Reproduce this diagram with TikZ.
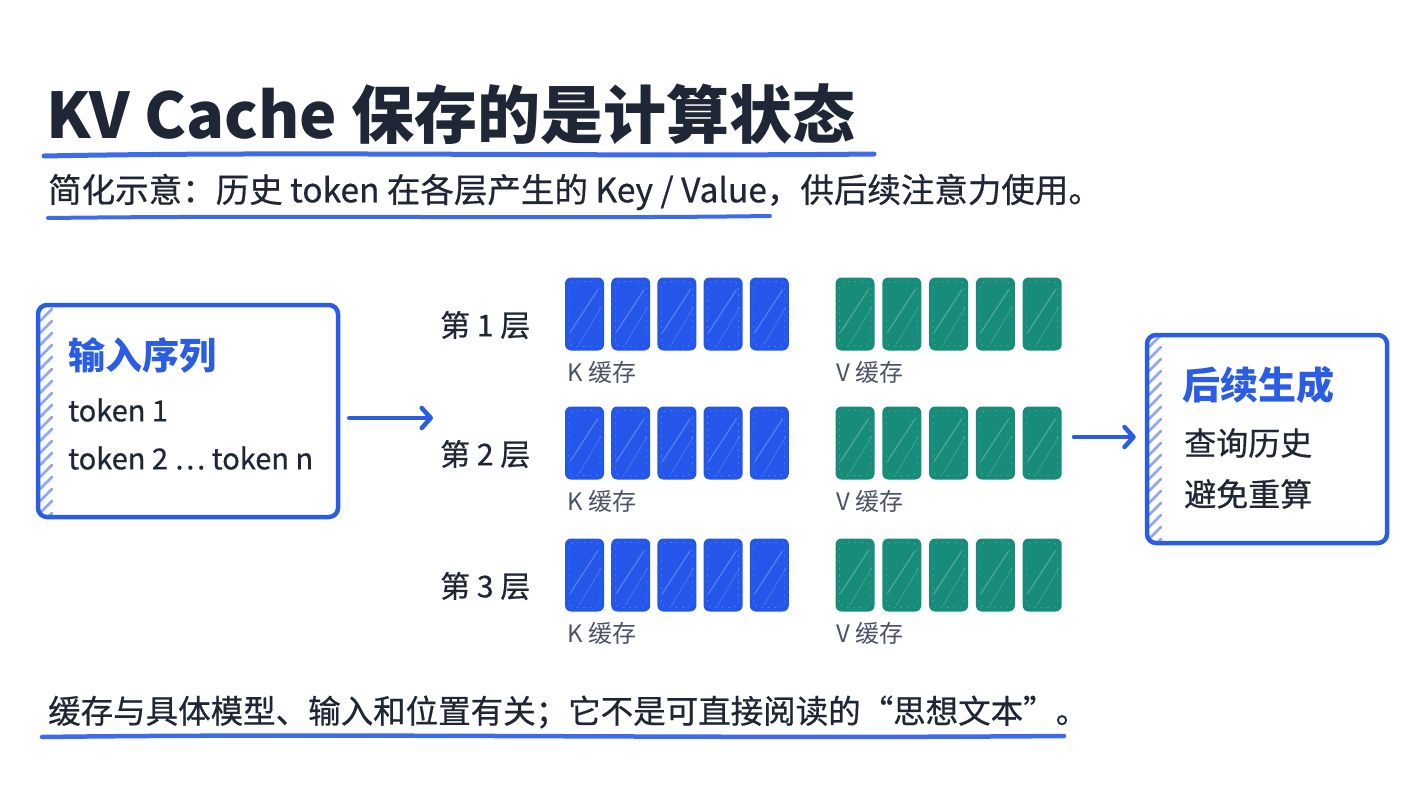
\documentclass[tikz,border=0pt]{standalone}
\usepackage{fontspec}
\setmainfont{Noto Sans CJK SC}
\newfontfamily\medfont{Noto Sans CJK SC}[FakeBold=0.6]
\usetikzlibrary{arrows.meta,calc}
\definecolor{ink}{HTML}{1F2636}
\definecolor{bl}{HTML}{2B5CE6}
\definecolor{kblue}{HTML}{2356E9}
\definecolor{vteal}{HTML}{178C78}
\definecolor{hatchc}{HTML}{8EA9F0}
\definecolor{lbl}{HTML}{4A5366}
\newcommand{\fs}[1]{\fontsize{#1}{#1}\selectfont}
\tikzset{
  txt/.style={inner sep=0pt, anchor=west, text=ink},
  uline/.style={draw=bl, line width=4.5pt, line cap=round, opacity=.9},
  blkstreak/.style={path picture={
      \draw[white,opacity=.22,line width=1.4pt]
        ([xshift=5pt,yshift=18pt]path picture bounding box.south west) --
        ([xshift=-6pt,yshift=-12pt]path picture bounding box.north east);
      \draw[white,opacity=.16,line width=1pt]
        ([xshift=14pt,yshift=6pt]path picture bounding box.south west) --
        ([xshift=-3pt,yshift=-30pt]path picture bounding box.north east);
      \draw[white,opacity=.25,line width=.8pt,dash pattern=on 1.5pt off 5pt]
        ([xshift=4pt,yshift=4pt]path picture bounding box.south west) rectangle
        ([xshift=-4pt,yshift=-4pt]path picture bounding box.north east);
  }},
  kblk/.style={rectangle, rounded corners=6pt, minimum width=39pt, minimum height=73pt,
    inner sep=0pt, fill=kblue, blkstreak},
  vblk/.style={rectangle, rounded corners=6pt, minimum width=39pt, minimum height=73pt,
    inner sep=0pt, fill=vteal, blkstreak},
  hatchbox/.style={rectangle, rounded corners=9pt, draw=bl, line width=4.5pt, inner sep=0pt,
    path picture={
      \foreach \t in {-20,-8,...,240}
        \draw[hatchc,line width=2.6pt,line cap=round]
          ([xshift=2pt,yshift=\t pt]path picture bounding box.south west) --
          ([xshift=14pt,yshift=\t pt+12pt]path picture bounding box.south west);
  }},
  laylbl/.style={txt, font=\fs{30}\medfont},
  cachelbl/.style={inner sep=0pt, anchor=west, text=lbl, font=\fs{24}},
  arr/.style={draw=bl, line width=4.5pt, line cap=round,
    -{Straight Barb[round,length=9pt,width=20pt]}},
}
\begin{document}
\begin{tikzpicture}[x=1pt,y=-1pt]
\useasboundingbox (0,0) rectangle (1421,800);
\fill[white] (0,0) rectangle (1421,800);

% title
\node[txt, font=\fs{63}\bfseries] (title) at (46,114) {KV Cache 保存的是计算状态};
\draw[uline, line width=5pt] (44,156) .. controls (300,151) and (600,157) .. (874,154);

% subtitle
\node[txt, font=\fs{33.5}\medfont] (sub) at (48,192) {简化示意：历史 token 在各层产生的 Key / Value，供后续注意力使用。};
\draw[uline, line width=4pt] (48,218) .. controls (300,215) and (550,219) .. (770,216);

% left box
\node[hatchbox, minimum width=300pt, minimum height=212pt] (inbox) at (188,411) {};
\node[txt, text=bl, font=\fs{37}\bfseries] (inttl) at (68,355) {输入序列};
\node[txt, font=\fs{29}\medfont] (tok1) at (68,410) {token 1};
\node[txt, font=\fs{29}\medfont] (tok2) at (68,458) {token 2 … token n};

% right box
\node[hatchbox, minimum width=240pt, minimum height=208pt] (outbox) at (1267,439) {};
\node[txt, text=bl, font=\fs{38}\bfseries] (outttl) at (1182,385) {后续生成};
\node[txt, font=\fs{32}\medfont] (out1) at (1184,443) {查询历史};
\node[txt, font=\fs{32}\medfont] (out2) at (1184,494) {避免重算};

% layers
\foreach \r/\y in {1/314,2/443,3/575} {
  \node[laylbl] (lay\r) at (440,\y+11) {第 \r\ 层};
  \foreach \i in {0,...,4} {
    \node[kblk] (k\r\i) at ({584.5+46.2*\i},\y) {};
    \node[vblk] (v\r\i) at ({855+46.8*\i},\y) {};
  }
  \node[cachelbl] (kl\r) at (567,\y+58) {K 缓存};
  \node[cachelbl] (vl\r) at (836,\y+58) {V 缓存};
}

% arrows
\coordinate (arrLend) at (433,418);
\draw[arr] ([xshift=9pt,yshift=-7pt]inbox.east) -- (arrLend);
\coordinate (arrRstart) at (1074,437);
\draw[arr] (arrRstart) -- ([xshift=-9pt,yshift=2pt]outbox.west);

% bottom
\node[txt, font=\fs{32.5}\medfont] (bottom) at (48,712) {缓存与具体模型、输入和位置有关；它不是可直接阅读的“思想文本”。};
\draw[uline, line width=4.5pt] (42,737) .. controls (350,733) and (700,739) .. (1064,736);
\end{tikzpicture}
\end{document}
